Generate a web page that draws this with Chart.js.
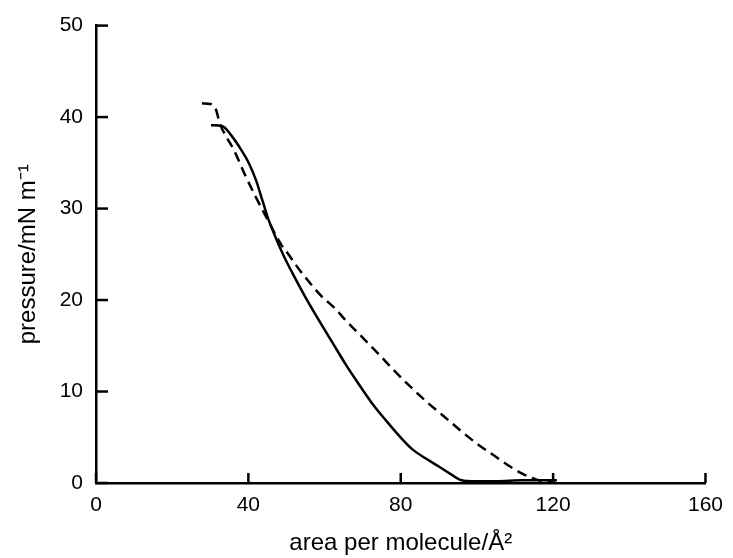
<!DOCTYPE html>
<html>
<head>
<meta charset="utf-8">
<script src="https://cdn.jsdelivr.net/npm/chart.js@4/dist/chart.umd.min.js"></script>
<style>
  html, body { margin: 0; padding: 0; background: #fff; }
  #wrap { width: 733px; height: 558px; }
</style>
</head>
<body>
<div id="wrap"><canvas id="isotherm" width="733" height="558"></canvas></div>
<script>
// Solid isotherm
const solidArea = [30.2, 33.2, 35.5, 38.0, 40.2, 42.0, 43.6, 45.2, 47.1, 49.2, 51.5, 55.0, 58.5, 62.0, 65.5, 69.0, 72.5, 76.0, 79.5, 83.0, 86.5, 90.0, 93.0, 96.0, 99.0, 105, 112, 121];
const solidPressure = [39.1, 39.0, 38.0, 36.5, 34.9, 33.1, 31.0, 28.9, 26.9, 24.9, 23.0, 20.3, 17.8, 15.4, 13.0, 10.8, 8.7, 6.9, 5.2, 3.7, 2.7, 1.8, 1.0, 0.3, 0.2, 0.2, 0.3, 0.3];

// Dashed isotherm
const dashedArea = [27.8, 30.3, 31.5, 32.5, 34.0, 36.2, 39.1, 41.9, 45.3, 48.7, 50.5, 53.4, 55.7, 59.0, 62.7, 65.5, 68.8, 74.4, 78.5, 82.6, 87.0, 91.3, 95.5, 100, 104.5, 108.7, 112.0, 114.8, 117.5, 120.5];
const dashedPressure = [41.5, 41.4, 40.8, 39.3, 38.0, 36.4, 33.7, 31.3, 28.6, 26.0, 25.0, 23.3, 22.1, 20.5, 19.1, 17.8, 16.4, 14.0, 12.2, 10.5, 8.8, 7.3, 5.8, 4.3, 3.0, 1.8, 1.0, 0.5, 0.2, 0.2];

// Axis ticks
const xTicks = [0, 40, 80, 120, 160];
const yTicks = [0, 10, 20, 30, 40, 50];

const toPoints = (xs, ys) => xs.map((x, i) => ({ x: x, y: ys[i] }));

// Ticks drawn inward from the axes, like the original figure
const innerTicks = {
  id: 'innerTicks',
  afterDraw(chart) {
    const { ctx, chartArea, scales: { x, y } } = chart;
    ctx.save();
    ctx.strokeStyle = '#000';
    ctx.lineWidth = 2.5;
    xTicks.forEach(v => {
      const px = x.getPixelForValue(v);
      ctx.beginPath();
      ctx.moveTo(px, chartArea.bottom);
      ctx.lineTo(px, chartArea.bottom - 10);
      ctx.stroke();
    });
    yTicks.forEach(v => {
      const py = y.getPixelForValue(v);
      ctx.beginPath();
      ctx.moveTo(chartArea.left, py);
      ctx.lineTo(chartArea.left + 12, py);
      ctx.stroke();
    });
    ctx.restore();
  }
};

Chart.defaults.font.family = "'Liberation Sans', Arial, sans-serif";
Chart.defaults.color = '#000';

const ctx = document.getElementById('isotherm').getContext('2d');
new Chart(ctx, {
  type: 'line',
  data: {
    datasets: [
      {
        data: toPoints(solidArea, solidPressure),
        borderColor: '#000',
        borderWidth: 2.5,
        pointRadius: 0,
        cubicInterpolationMode: 'monotone',
        fill: false,
      },
      {
        data: toPoints(dashedArea, dashedPressure),
        borderColor: '#000',
        borderWidth: 2.5,
        borderDash: [10, 6],
        pointRadius: 0,
        cubicInterpolationMode: 'monotone',
        fill: false,
      },
    ],
  },
  options: {
    responsive: false,
    animation: false,
    devicePixelRatio: 1,
    layout: { padding: { top: 22, right: 23, bottom: 0, left: 0 } },
    plugins: { legend: { display: false }, tooltip: { enabled: false } },
    scales: {
      x: {
        type: 'linear',
        min: 0,
        max: 160,
        afterFit: (scale) => { scale.height = 75; },
        afterBuildTicks: (scale) => { scale.ticks = xTicks.map(v => ({ value: v })); },
        grid: { display: true, drawOnChartArea: false, drawTicks: false },
        border: { display: true, color: '#000', width: 2.5 },
        ticks: { padding: 10, font: { size: 21 }, maxRotation: 0 },
        title: {
          display: true,
          text: 'area per molecule/Å²',
          font: { size: 24 },
          padding: { top: 0, bottom: 0 },
        },
      },
      y: {
        type: 'linear',
        min: 0,
        max: 50,
        afterFit: (scale) => { scale.width = 96; },
        afterBuildTicks: (scale) => { scale.ticks = yTicks.map(v => ({ value: v })); },
        grid: { display: true, drawOnChartArea: false, drawTicks: false },
        border: { display: true, color: '#000', width: 2.5 },
        ticks: { padding: 13, font: { size: 21 } },
        title: {
          display: true,
          text: 'pressure/mN m⁻¹',
          font: { size: 24 },
          padding: { top: 14, bottom: 0 },
        },
      },
    },
  },
  plugins: [innerTicks],
});
</script>
</body>
</html>
